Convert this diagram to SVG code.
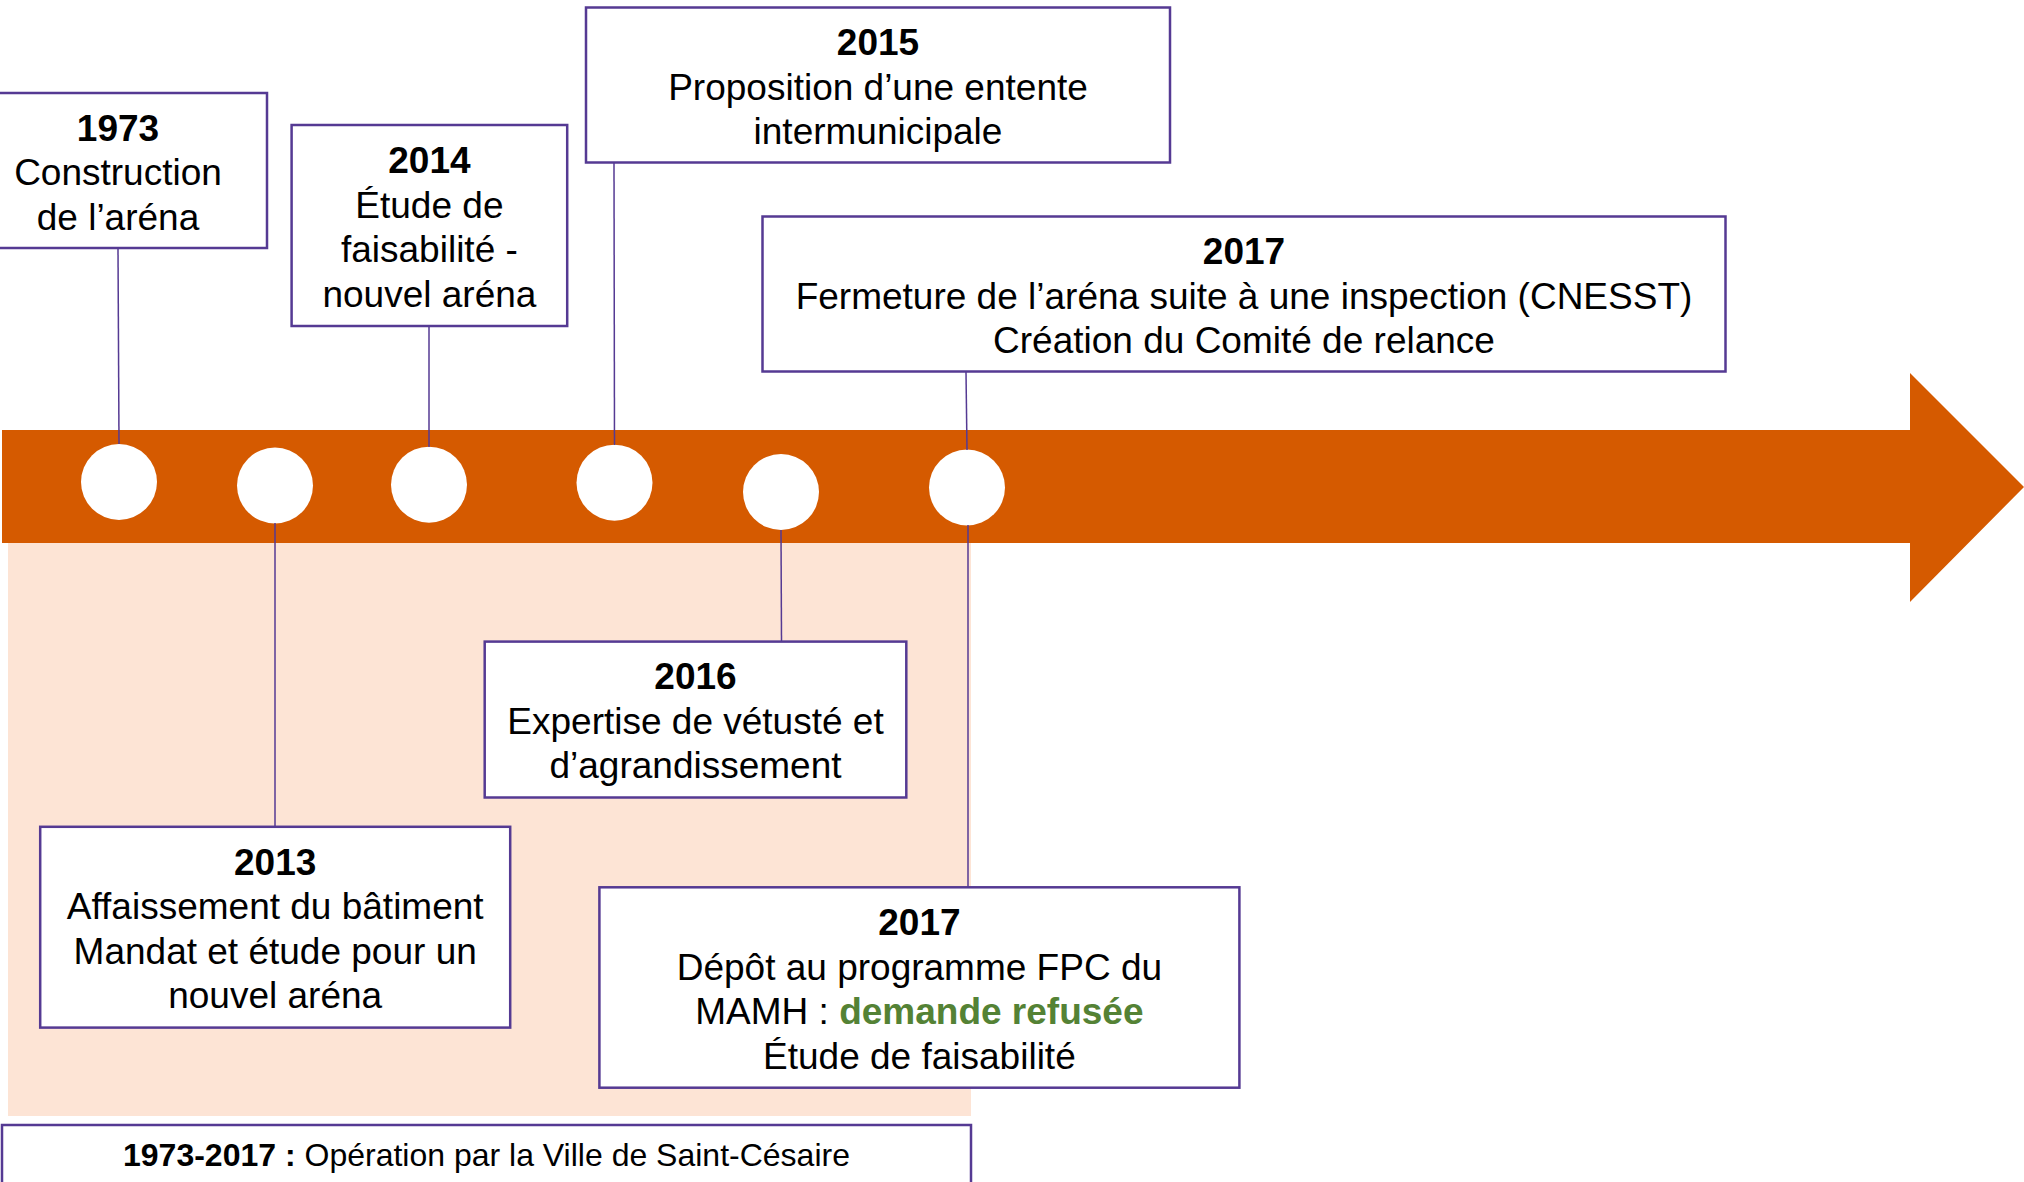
<svg xmlns="http://www.w3.org/2000/svg" width="2024" height="1182" viewBox="0 0 2024 1182">
<style>
.box{fill:#ffffff;stroke:#553A93;stroke-width:2.5}
.t{font-family:"Liberation Sans",Arial,sans-serif;font-size:37px;fill:#000;text-anchor:middle}
.y{font-weight:bold}
.g{font-weight:bold;fill:#548235}
.s{font-family:"Liberation Sans",Arial,sans-serif;font-size:32px;fill:#000;text-anchor:middle}
.c{fill:#ffffff}
.ln{stroke:#553A93;stroke-width:1.5;fill:none}
</style>
<rect width="2024" height="1182" fill="#ffffff"/>
<rect id="period-bg" x="8" y="543" width="963" height="573" fill="#FDE4D5"/>
<path id="timeline" d="M2,430 H1910 V373 L2024,487 L1910,602 V543 H2 Z" fill="#D55A00"/>
<g id="dots">
<circle class="c" cx="119" cy="482" r="38"/>
<circle class="c" cx="275" cy="485.5" r="38"/>
<circle class="c" cx="429" cy="484.7" r="38"/>
<circle class="c" cx="614.5" cy="482.7" r="38"/>
<circle class="c" cx="781" cy="492" r="38"/>
<circle class="c" cx="967" cy="487.5" r="38"/>
</g>
<g id="connectors">
<line class="ln" x1="118" y1="248" x2="119" y2="444"/>
<line class="ln" x1="429" y1="326" x2="429" y2="447"/>
<line class="ln" x1="614" y1="163" x2="614.5" y2="445"/>
<line class="ln" x1="966" y1="372" x2="967" y2="450"/>
<line class="ln" x1="275" y1="523" x2="275" y2="826"/>
<line class="ln" x1="781" y1="530" x2="781.5" y2="642"/>
<line class="ln" x1="968" y1="525" x2="968" y2="887"/>
</g>
<g id="n1973">
<rect class="box" x="-31" y="93" width="298" height="155"/>
<text class="t"><tspan class="y" x="118" y="141">1973</tspan><tspan x="118" y="185.4">Construction</tspan><tspan x="118" y="229.8">de l’aréna</tspan></text>
</g>
<g id="n2014">
<rect class="box" x="291.6" y="125" width="275.6" height="201"/>
<text class="t"><tspan class="y" x="429.4" y="173.4">2014</tspan><tspan x="429.4" y="217.8">Étude de</tspan><tspan x="429.4" y="262.2">faisabilité -</tspan><tspan x="429.4" y="306.6">nouvel aréna</tspan></text>
</g>
<g id="n2015">
<rect class="box" x="586" y="7.5" width="584" height="155"/>
<text class="t"><tspan class="y" x="878" y="55.4">2015</tspan><tspan x="878" y="99.8">Proposition d’une entente</tspan><tspan x="878" y="144.2">intermunicipale</tspan></text>
</g>
<g id="n2017a">
<rect class="box" x="762.5" y="216.5" width="963" height="155"/>
<text class="t"><tspan class="y" x="1244" y="264.4">2017</tspan><tspan x="1244" y="308.8">Fermeture de l’aréna suite à une inspection (CNESST)</tspan><tspan x="1244" y="353.2">Création du Comité de relance</tspan></text>
</g>
<g id="n2016">
<rect class="box" x="484.7" y="641.6" width="421.6" height="155.9"/>
<text class="t"><tspan class="y" x="695.5" y="689.4">2016</tspan><tspan x="695.5" y="733.8">Expertise de vétusté et</tspan><tspan x="695.5" y="778.2">d’agrandissement</tspan></text>
</g>
<g id="n2013">
<rect class="box" x="40.2" y="826.8" width="470" height="200.8"/>
<text class="t"><tspan class="y" x="275.2" y="874.8">2013</tspan><tspan x="275.2" y="919.2">Affaissement du bâtiment</tspan><tspan x="275.2" y="963.6">Mandat et étude pour un</tspan><tspan x="275.2" y="1008">nouvel aréna</tspan></text>
</g>
<g id="n2017b">
<rect class="box" x="599.4" y="887.3" width="640" height="200.4"/>
<text class="t"><tspan class="y" x="919.4" y="935.3">2017</tspan><tspan x="919.4" y="979.7">Dépôt au programme FPC du</tspan><tspan x="919.4" y="1024.1">MAMH : <tspan class="g">demande refusée</tspan></tspan><tspan x="919.4" y="1068.5">Étude de faisabilité</tspan></text>
</g>
<g id="period">
<rect class="box" x="2" y="1125" width="969" height="80"/>
<text class="s" x="486.5" y="1166"><tspan font-weight="bold">1973-2017 :</tspan> Opération par la Ville de Saint-Césaire</text>
</g>
</svg>
